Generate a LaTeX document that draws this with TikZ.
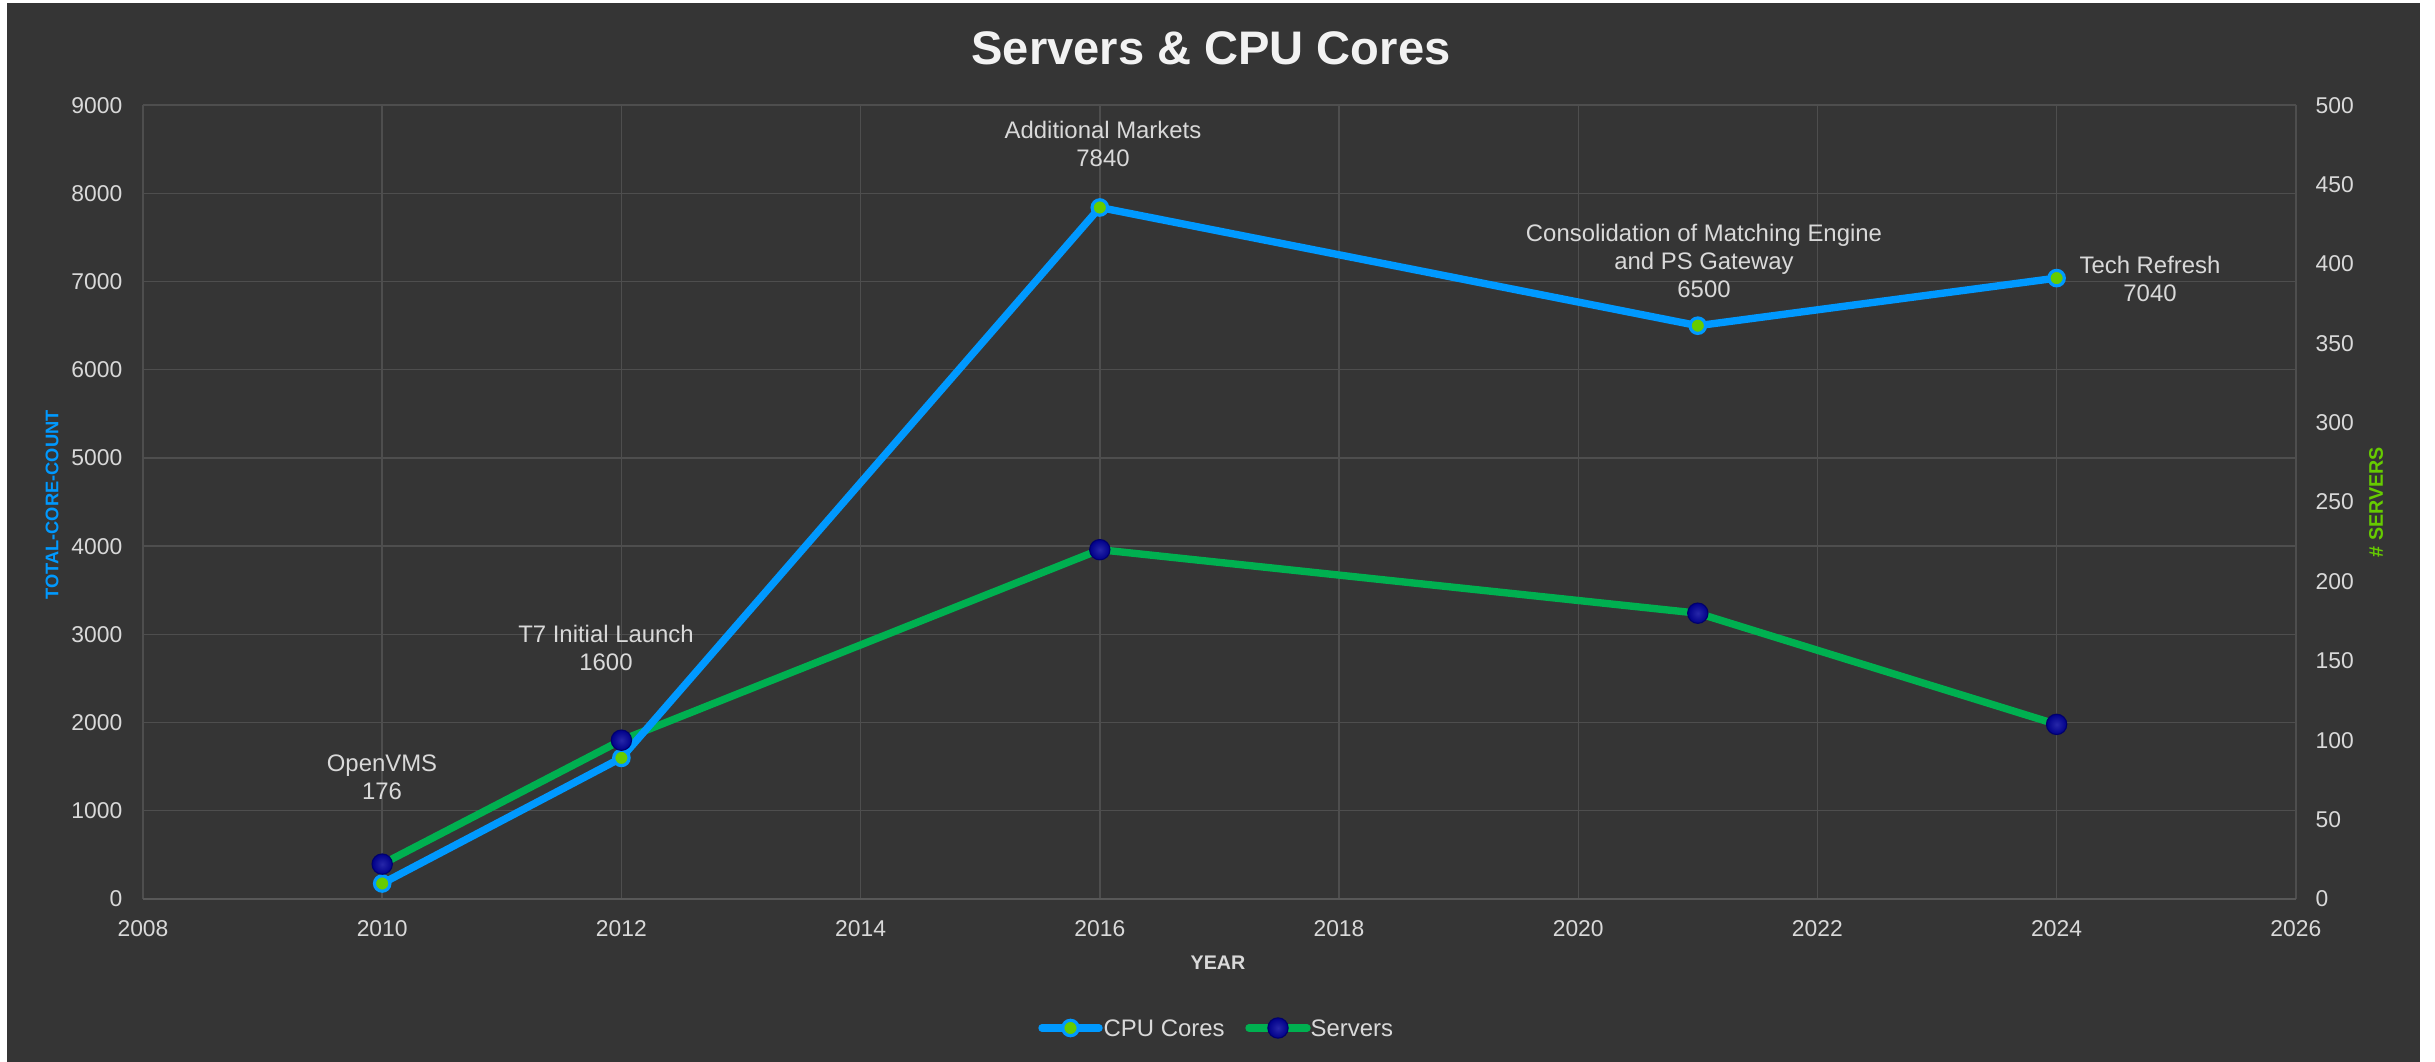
\documentclass[tikz,border=0pt]{standalone}
\usepackage{fontspec}
\setmainfont{Liberation Sans}
\usetikzlibrary{positioning,calc}

\definecolor{chartbg}{RGB}{53,53,53}
\definecolor{gridgray}{RGB}{78,78,78}
\definecolor{axisgray}{RGB}{88,88,88}
\definecolor{txtgray}{RGB}{217,217,217}
\definecolor{cpublue}{RGB}{0,153,255}
\definecolor{srvgreen}{RGB}{0,176,80}
\definecolor{dotgreen}{RGB}{102,204,0}
\definecolor{dotnavy}{RGB}{0,0,153}

\begin{document}
\begin{tikzpicture}
    [note/.style={align=center,text=txtgray,font=\fontsize{6.8}{8}\selectfont},
     tick/.style={text=txtgray,inner sep=0pt,font=\fontsize{6.5}{7.5}\selectfont},
     axtitle/.style={inner sep=0pt,font=\fontsize{5.6}{6.5}\selectfont\bfseries},
     gridline/.style={gridgray,line width=0.4pt},
     cpuline/.style={cpublue,line width=2.1pt,line join=round,line cap=round},
     srvline/.style={srvgreen,line width=2.1pt,line join=round,line cap=round},
     cpudot/.style={circle,fill=dotgreen,draw=cpublue,line width=0.9pt,minimum size=4.4pt,inner sep=0pt},
     srvdot/.style={circle,draw=dotnavy!70!black,line width=0.3pt,inner color=dotnavy!85!white,outer color=dotnavy!90!black,minimum size=5.8pt,inner sep=0pt}]

    % canvas
    \fill[white] (0,0) rectangle (24.35,10.62);
    \fill[chartbg] (0.07,0) rectangle (24.20,10.59);

    % grid
    \foreach \i in {0,...,9}
        \draw[gridline] ({1.43+2.392*\i},1.63) -- ({1.43+2.392*\i},9.568);
    \foreach \i in {1,...,9}
        \draw[gridline] (1.43,{1.63+0.882*\i}) -- (22.958,{1.63+0.882*\i});
    \draw[axisgray,line width=0.6pt] (1.43,1.63) -- (22.958,1.63);

    % axis numbers
    \foreach \i in {0,...,9}
        \node[tick,anchor=east] (lt\i) at (1.23,{1.63+0.882*\i}) {\the\numexpr\i*1000\relax};
    \foreach \i in {0,...,10}
        \node[tick,anchor=west] (rt\i) at (23.15,{1.63+0.7938*\i}) {\the\numexpr\i*50\relax};
    \foreach \i in {0,...,9}
        \node[tick] (yr\i) at ({1.43+2.392*\i},1.33) {\the\numexpr2008+2*\i\relax};

    % data points
    \coordinate (c10) at (3.822,1.785);
    \coordinate (c12) at (6.214,3.041);
    \coordinate (c16) at (10.998,8.545);
    \coordinate (c21) at (16.978,7.363);
    \coordinate (c24) at (20.566,7.839);

    \coordinate (s10) at (3.822,1.979);
    \coordinate (s12) at (6.214,3.218);
    \coordinate (s16) at (10.998,5.123);
    \coordinate (s21) at (16.978,4.488);
    \coordinate (s24) at (20.566,3.376);

    \draw[srvline] (s10) -- (s12) -- (s16) -- (s21) -- (s24);
    \draw[cpuline] (c10) -- (c12) -- (c16) -- (c21) -- (c24);

    \node[cpudot] (cd10) at (c10) {};
    \node[cpudot] (cd12) at (c12) {};
    \node[cpudot] (cd16) at (c16) {};
    \node[cpudot] (cd21) at (c21) {};
    \node[cpudot] (cd24) at (c24) {};

    \node[srvdot] (sd10) at (s10) {};
    \node[srvdot] (sd12) at (s12) {};
    \node[srvdot] (sd16) at (s16) {};
    \node[srvdot] (sd21) at (s21) {};
    \node[srvdot] (sd24) at (s24) {};

    % data labels
    \node[note] (n10) at (3.82,2.85) {OpenVMS\\176};
    \node[note] (n12) at (6.06,4.14) {T7 Initial Launch\\1600};
    \node[note] (n16) at (11.03,9.18) {Additional Markets\\7840};
    \node[note] (n21) at (17.04,8.01) {Consolidation of Matching Engine\\and PS Gateway\\6500};
    \node[note] (n24) at (21.50,7.83) {Tech Refresh\\7040};

    % titles
    \node[font=\fontsize{13.4}{15}\selectfont\bfseries,text=white!95!black] (title) at (12.11,10.14) {Servers \& CPU Cores};
    \node[axtitle,text=txtgray] (xtitle) at (12.18,0.99) {YEAR};
    \node[axtitle,text=cpublue,rotate=90,font=\fontsize{5.2}{6}\selectfont\bfseries] (ytitle) at (0.52,5.57) {TOTAL-CORE-COUNT};
    \node[axtitle,text=dotgreen,rotate=90] (y2title) at (23.76,5.60) {\# SERVERS};

    % legend
    \coordinate (lc1) at (10.42,0.34);
    \coordinate (lc2) at (10.99,0.34);
    \draw[cpuline] (lc1) -- (lc2);
    \node[cpudot] (lcdot) at ($(lc1)!0.5!(lc2)$) {};
    \node[note,inner sep=0pt,right=0.04 of lc2] (lctxt) {CPU Cores};

    \coordinate (ls1) at (12.49,0.34);
    \coordinate (ls2) at (13.07,0.34);
    \draw[srvline] (ls1) -- (ls2);
    \node[srvdot] (lsdot) at ($(ls1)!0.5!(ls2)$) {};
    \node[note,inner sep=0pt,right=0.03 of ls2] (lstxt) {Servers};

\end{tikzpicture}
\end{document}
